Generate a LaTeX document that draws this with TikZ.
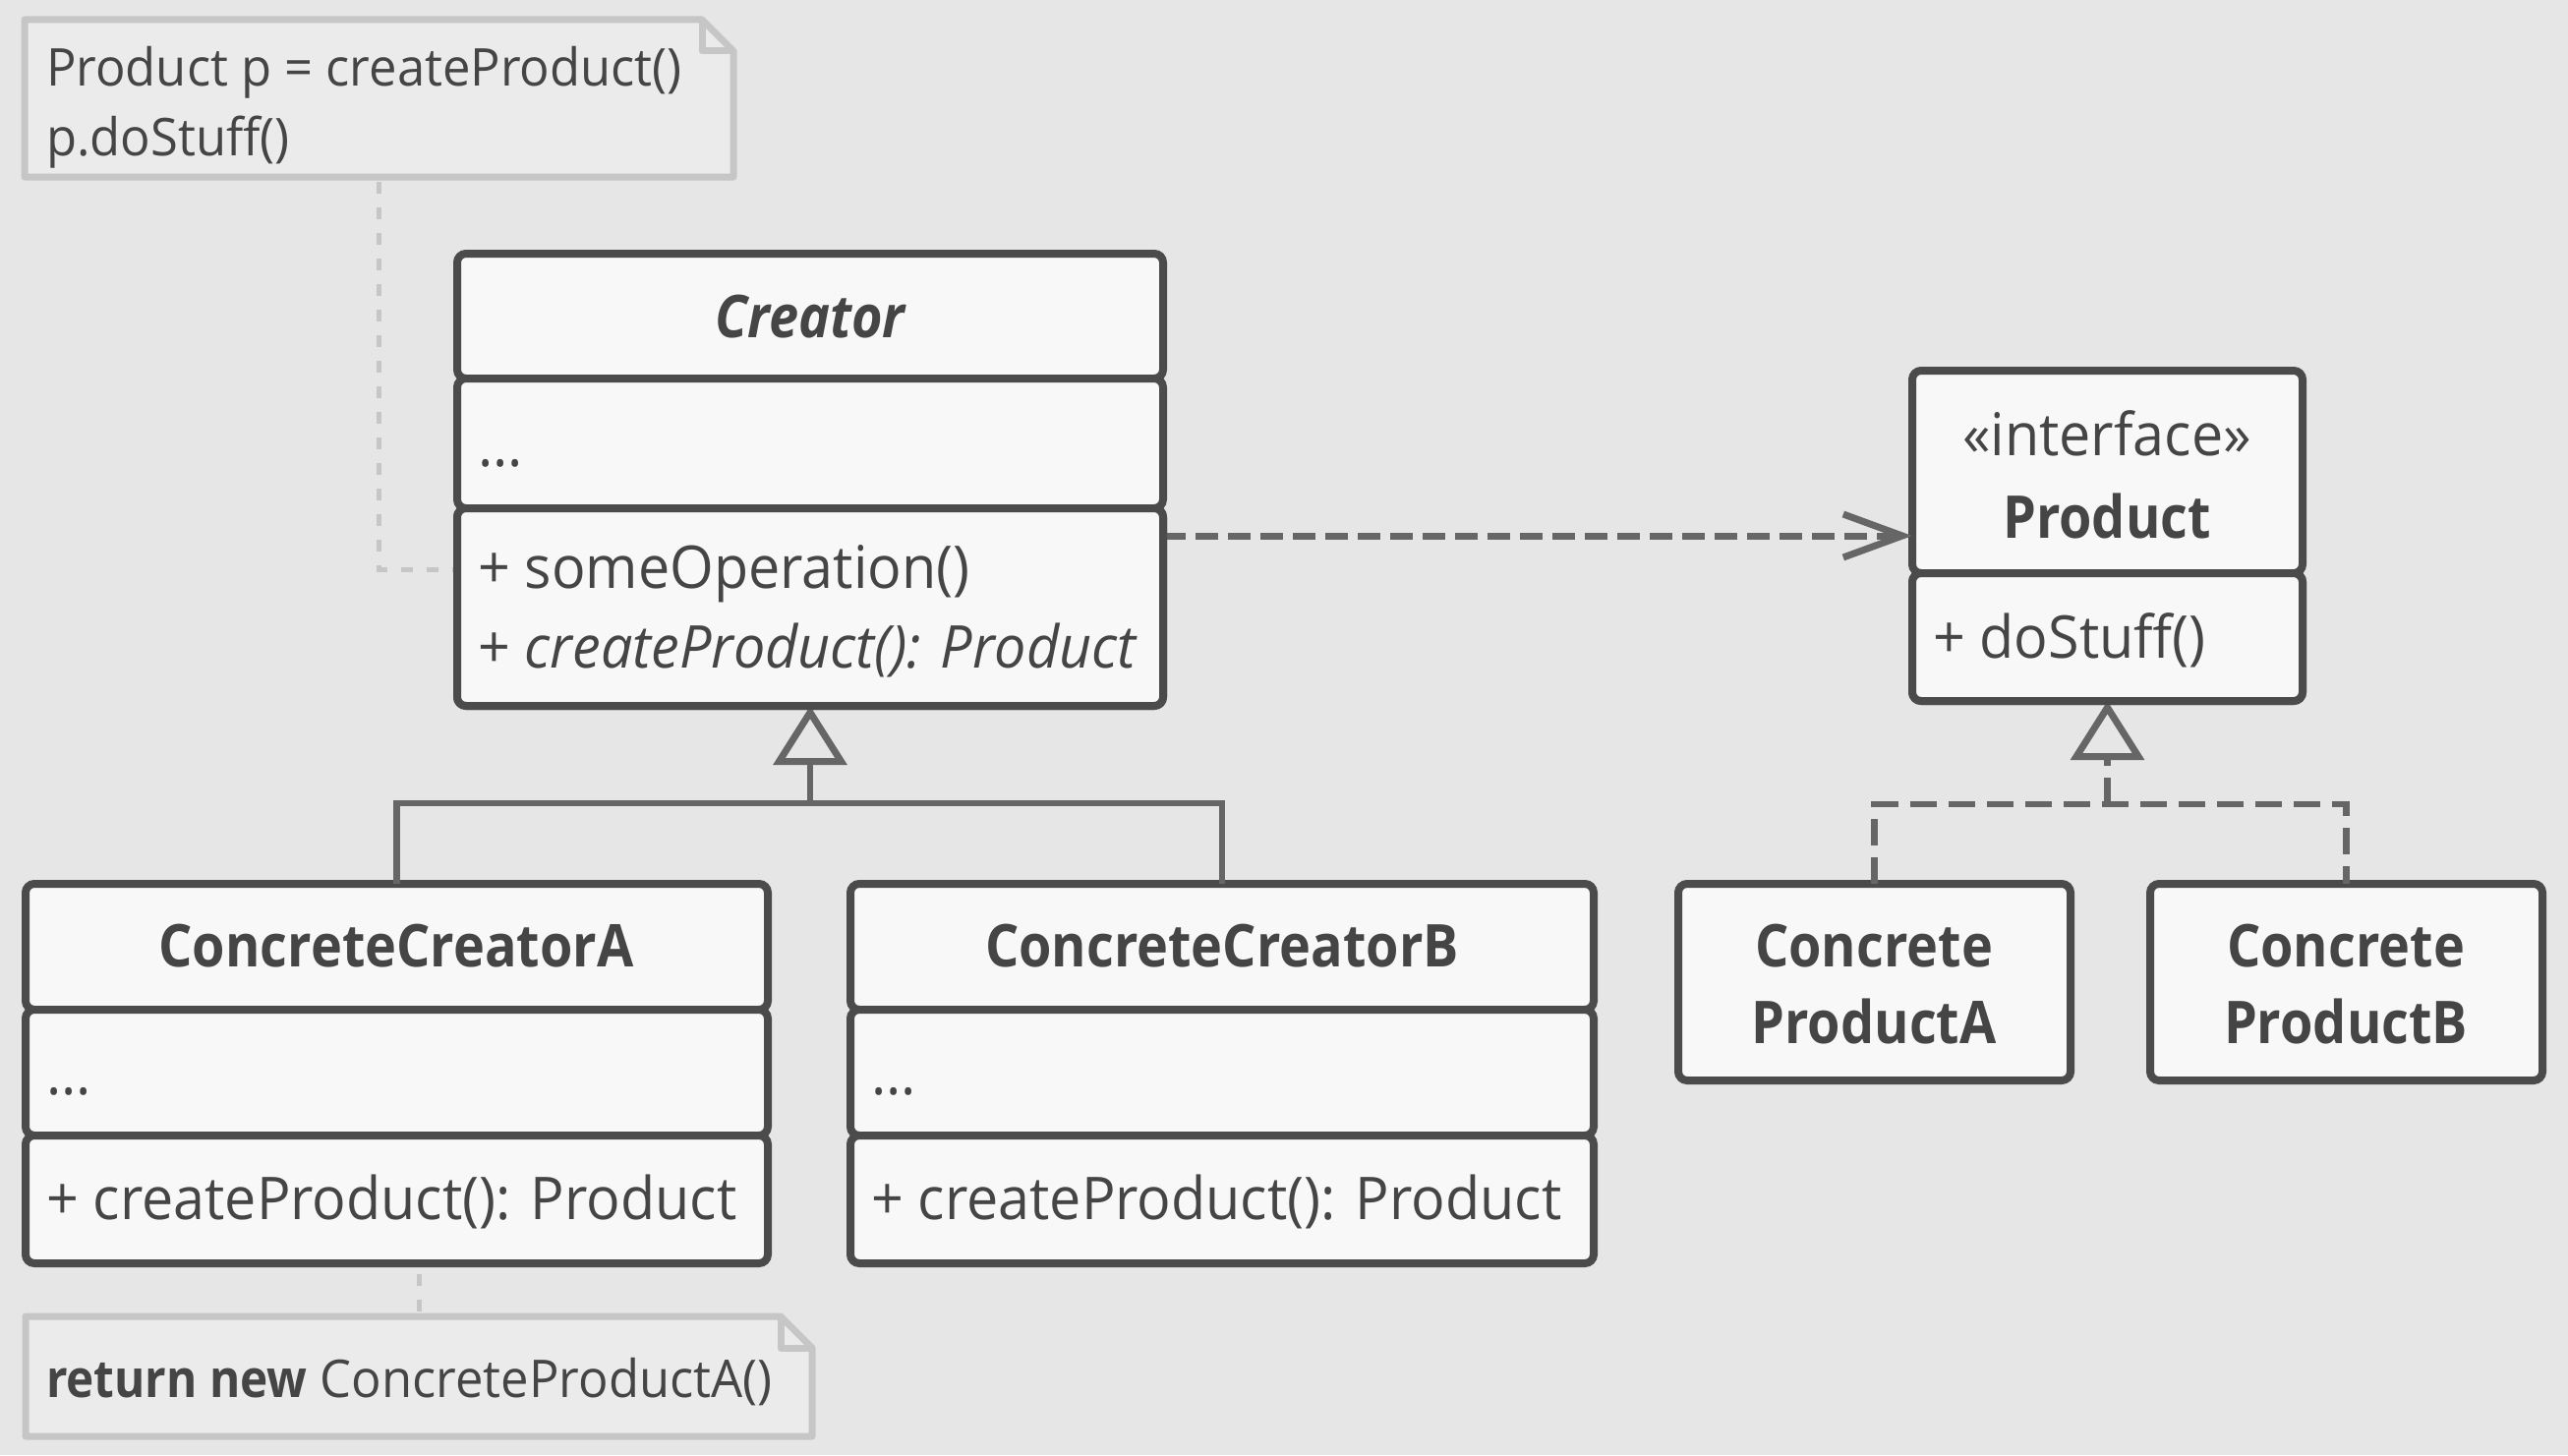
\documentclass[tikz,border=0pt]{standalone}
\usepackage{fontspec}
\setmainfont{Open Sans}[FakeStretch=0.957]
\newfontfamily\hfont{Open Sans}[FakeStretch=0.90]
\usetikzlibrary{arrows.meta}
\definecolor{bg}{HTML}{E6E6E6}
\definecolor{boxfill}{HTML}{F8F8F8}
\definecolor{boxline}{HTML}{4B4B4B}
\definecolor{txtc}{HTML}{454545}
\definecolor{conn}{HTML}{666666}
\definecolor{notefill}{HTML}{EBEBEB}
\definecolor{noteline}{HTML}{C6C6C6}
\newcommand{\bodyfont}{\fontsize{60}{72}\selectfont}
\newcommand{\notefont}{\fontsize{53}{64}\selectfont}
\tikzset{
  comp/.style={draw=boxline, fill=boxfill, line width=8pt, rounded corners=9pt,
    anchor=north west, inner sep=0pt, outer sep=0pt},
  lbl/.style={text=txtc, inner sep=0pt, outer sep=0pt, anchor=base west, font=\bodyfont},
  clbl/.style={lbl, anchor=base},
  hlbl/.style={clbl, font=\bodyfont\hfont\bfseries},
  nlbl/.style={lbl, font=\notefont},
  notebox/.style={anchor=north west, inner sep=0pt, outer sep=0pt, draw=none},
  noteshape/.style={draw=noteline, fill=notefill, line width=7pt, line join=round},
  notelink/.style={draw=noteline, line width=5pt, dash pattern=on 12pt off 14pt},
  dep/.style={draw=conn, line width=7pt, dash pattern=on 23pt off 10pt,
    -{Straight Barb[length=60pt, width=44pt, line width=7pt]}},
  inh/.style={draw=conn, line width=6.5pt},
  realz/.style={draw=conn, line width=6.5pt, dash pattern=on 27pt off 12pt},
  gentip/.style={-{Triangle[open, length=60pt, width=74pt, line width=7pt, fill=bg]}},
}
\begin{document}
\begin{tikzpicture}[x=1pt,y=-1pt]
\useasboundingbox[fill=bg] (0,0) rectangle (2612,1480);

% ---------- nodes (boxes) ----------
% Note 1
\node[notebox, minimum width=721pt, minimum height=160pt] (n1) at (25,20) {};
% Note 2
\node[notebox, minimum width=800pt, minimum height=122pt] (n2) at (26,1339) {};

% Creator
\node[comp, minimum width=718pt, minimum height=127pt] (crh) at (465,258) {};
\node[comp, minimum width=718pt, minimum height=132pt] (cra) at (465,385) {};
\node[comp, minimum width=718pt, minimum height=201pt] (crm) at (465,517) {};

% Product
\node[comp, minimum width=397pt, minimum height=206pt] (prh) at (1945,377) {};
\node[comp, minimum width=397pt, minimum height=130pt] (prm) at (1945,583) {};

% ConcreteCreatorA
\node[comp, minimum width=755pt, minimum height=128pt] (cah) at (26,899) {};
\node[comp, minimum width=755pt, minimum height=128pt] (caa) at (26,1027) {};
\node[comp, minimum width=755pt, minimum height=130pt] (cam) at (26,1155) {};

% ConcreteCreatorB
\node[comp, minimum width=756pt, minimum height=128pt] (cbh) at (865,899) {};
\node[comp, minimum width=756pt, minimum height=128pt] (cba) at (865,1027) {};
\node[comp, minimum width=756pt, minimum height=130pt] (cbm) at (865,1155) {};

% ConcreteProductA / B
\node[comp, minimum width=399pt, minimum height=200pt] (pa) at (1707,899) {};
\node[comp, minimum width=399pt, minimum height=200pt] (pb) at (2187,899) {};

% ---------- note outlines ----------
\path[noteshape] (n1.north west) -- ([xshift=-32pt]n1.north east) -- ([yshift=-32pt]n1.north east)
  -- (n1.south east) -- (n1.south west) -- cycle;
\draw[draw=noteline, line width=7pt, line join=round] ([xshift=-32pt]n1.north east) -- ([xshift=-32pt,yshift=-32pt]n1.north east) -- ([yshift=-32pt]n1.north east);
\path[noteshape] (n2.north west) -- ([xshift=-32pt]n2.north east) -- ([yshift=-32pt]n2.north east)
  -- (n2.south east) -- (n2.south west) -- cycle;
\draw[draw=noteline, line width=7pt, line join=round] ([xshift=-32pt]n2.north east) -- ([xshift=-32pt,yshift=-32pt]n2.north east) -- ([yshift=-32pt]n2.north east);

% ---------- connectors ----------
\coordinate (k1) at (465,579);
\draw[notelink] ([yshift=-5pt]n1.south) |- (k1);
\draw[notelink] ([yshift=5pt]n2.north) -- (n2.north |- cam.south);

\draw[dep] (crm.east |- 0,545) -- (prh.west |- 0,545);

\coordinate (j1) at (crm.south |- 0,817);
\draw[inh] (cah.north) |- (j1) -| (cbh.north);
\draw[inh, gentip] (j1) -- (crm.south);

\coordinate (j2) at (prm.south |- 0,818);
\draw[realz] (pa.north) |- (j2) -| (pb.north);
\draw[realz, gentip] (j2) -- (prm.south);

% redraw boxes on top of connector ends
\node[comp, minimum width=718pt, minimum height=201pt] at (465,517) {};
\node[comp, minimum width=397pt, minimum height=130pt] at (1945,583) {};

% ---------- texts ----------
\node[nlbl] (t1) at (47,88) {Product p = createProduct()};
\node[nlbl] (t2) at (47,158) {p.doStuff()};
\node[nlbl] (t3) at (47,1421) {{\hfont\bfseries return new} ConcreteProductA()};

\node[hlbl] (crt) at (824,343) {\itshape Creator};
\node[lbl] (cr1) at (486,474) {...};
\node[lbl] (cr2) at (486,598) {+ someOperation()};
\node[lbl] (cr3) at (486,679) {+ \itshape createProduct(): Product};

\node[clbl] (prt1) at (2143,463) {«interface»};
\node[hlbl] (prt2) at (2143,547) {Product};
\node[lbl] (prt3) at (1966,669) {+ doStuff()};

\node[hlbl] (cat) at (403,983) {ConcreteCreatorA};
\node[lbl] (ca1) at (47,1113) {...};
\node[lbl] (ca2) at (47,1240) {+ createProduct(): Product};

\node[hlbl] (cbt) at (1243,983) {ConcreteCreatorB};
\node[lbl] (cb1) at (886,1113) {...};
\node[lbl] (cb2) at (886,1240) {+ createProduct(): Product};

\node[hlbl] (pat1) at (1906,983) {Concrete};
\node[hlbl] (pat2) at (1906,1061) {ProductA};
\node[hlbl] (pbt1) at (2386,983) {Concrete};
\node[hlbl] (pbt2) at (2386,1061) {ProductB};
\end{tikzpicture}
\end{document}
